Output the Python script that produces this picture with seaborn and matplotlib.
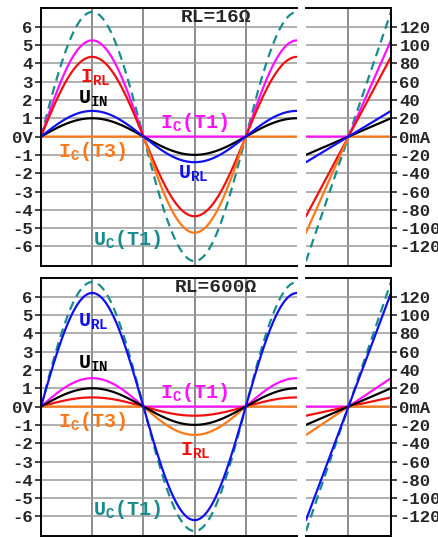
"""
Emitter-follower push-pull stage: waveforms and transfer curves
for two load resistors (16 ohm and 600 ohm).
"""

import numpy as np
import pandas as pd
import matplotlib
matplotlib.use("Agg")
import matplotlib.pyplot as plt
import seaborn as sns

# ---------------------------------------------------------------------------
# Data (peak values, in volts; right axis = 20 mA / V)
# ---------------------------------------------------------------------------
SERIES   = ["U_IN", "U_RL", "I_RL", "I_C(T1)", "I_C(T3)", "U_C(T1)"]
PEAK_16  = [1.0, 1.4, 4.35, 5.25, 5.25, 6.8]
PEAK_600 = [1.0, 6.2, 0.5, 1.55, 1.55, 6.8]
HALF     = ["full", "full", "full", "pos", "neg", "full"]

TITLES = ["RL=16Ω", "RL=600Ω"]

Y_TICKS   = [6, 5, 4, 3, 2, 1, 0, -1, -2, -3, -4, -5, -6]
Y_LABELS  = ["6", "5", "4", "3", "2", "1", "0V",
             "-1", "-2", "-3", "-4", "-5", "-6"]
MA_LABELS = ["120", "100", "80", "60", "40", "20", "0mA",
             "-20", "-40", "-60", "-80", "-100", "-120"]

# ---------------------------------------------------------------------------
# Styling / label placement
# ---------------------------------------------------------------------------
COLORS = {
    "U_IN":    "#000000",
    "U_RL":    "#1010f0",
    "I_RL":    "#f01010",
    "I_C(T1)": "#ff10ff",
    "I_C(T3)": "#ff7818",
    "U_C(T1)": "#188c8c",
}
TEXT = {
    "U_IN":    r"U$_{\mathrm{IN}}$",
    "U_RL":    r"U$_{\mathrm{RL}}$",
    "I_RL":    r"I$_{\mathrm{RL}}$",
    "I_C(T1)": r"I$_{\mathrm{C}}$(T1)",
    "I_C(T3)": r"I$_{\mathrm{C}}$(T3)",
    "U_C(T1)": r"U$_{\mathrm{C}}$(T1)",
}
DRAW_ORDER = ["U_C(T1)", "I_C(T1)", "I_RL", "I_C(T3)", "U_IN", "U_RL"]

# label anchor (phase, volts) at text baseline
LABEL_POS = [
    {"I_RL": (0.19, 2.95), "U_IN": (0.18, 1.82), "I_C(T1)": (0.58, 0.45),
     "I_C(T3)": (0.083, -1.13), "U_RL": (0.67, -2.3), "U_C(T1)": (0.254, -5.9)},
    {"U_RL": (0.18, 4.34), "U_IN": (0.18, 2.07), "I_C(T1)": (0.58, 0.45),
     "I_C(T3)": (0.083, -1.13), "I_RL": (0.68, -2.66), "U_C(T1)": (0.254, -5.9)},
]

FONT = "Liberation Mono"
YLIM = (-7.05, 7.0)


def shape(u, half):
    if half == "pos":
        return np.clip(u, 0, None)
    if half == "neg":
        return np.clip(u, None, 0)
    return u


def build_frames(peaks):
    t = np.linspace(0, 1.25, 500)
    u_in = np.sin(2 * np.pi * t)
    x = np.linspace(-1, 1, 201)
    wave, trans = [], []
    for name, pk, half in zip(SERIES, peaks, HALF):
        wave.append(pd.DataFrame({"t": t, "v": pk * shape(u_in, half), "s": name}))
        trans.append(pd.DataFrame({"x": x, "v": pk * shape(x, half), "s": name}))
    return pd.concat(wave, ignore_index=True), pd.concat(trans, ignore_index=True)


def style_axes(ax, side):
    ax.set_ylim(*YLIM)
    ax.set_yticks(Y_TICKS)
    ax.grid(axis="y", color="#9a9a9a", lw=1.1)
    ax.grid(axis="x", color="#6e6e6e", lw=1.1)
    ax.set_axisbelow(True)
    ax.set_xlabel(""); ax.set_ylabel("")
    ax.tick_params(axis="x", length=0, labelbottom=False)
    for sp in ax.spines.values():
        sp.set_color("black"); sp.set_linewidth(1.4)
    if side == "left":
        ax.spines["right"].set_visible(False)
        ax.set_yticklabels(Y_LABELS)
        ax.tick_params(axis="y", left=True, length=4, width=1.2, pad=2,
                       labelsize=12.5, direction="out")
    else:
        ax.spines["left"].set_visible(False)
        ax.yaxis.tick_right()
        ax.set_yticklabels(MA_LABELS)
        ax.tick_params(axis="y", right=True, left=False, length=4, width=1.2,
                       pad=2, labelsize=12.5, direction="out")
    for lab in ax.get_yticklabels():
        lab.set_fontweight("bold")


def draw_row(fig, bottom, peaks, title, label_pos):
    ax_w = fig.add_axes([41 / 439, bottom, 256 / 439, 0.4793])
    ax_t = fig.add_axes([306 / 439, bottom, 85 / 439, 0.4793])
    wave, trans = build_frames(peaks)

    for name in DRAW_ORDER:
        ls = (0, (4, 2.5)) if name == "U_C(T1)" else "-"
        sns.lineplot(data=wave[wave.s == name], x="t", y="v", ax=ax_w,
                     color=COLORS[name], lw=1.6, linestyle=ls, sort=False,
                     estimator=None)
        sns.lineplot(data=trans[trans.s == name], x="x", y="v", ax=ax_t,
                     color=COLORS[name], lw=1.6, linestyle=ls, sort=False,
                     estimator=None)

    ax_w.set_xlim(0, 1.25)
    ax_w.set_xticks([0.25, 0.5, 0.75, 1.0])
    ax_t.set_xlim(-1, 1)
    ax_t.set_xticks([0])
    style_axes(ax_w, "left")
    style_axes(ax_t, "right")

    for name, (px, py) in label_pos.items():
        ax_w.text(px, py, TEXT[name], color=COLORS[name], fontsize=14.5,
                  fontweight="bold", va="baseline", ha="left")
    ax_w.text(0.684, 0.966, title, transform=ax_w.transAxes, fontsize=14,
              fontweight="bold", ha="center", va="center")


def main():
    sns.set_style("white")
    plt.rcParams["font.family"] = [FONT, "DejaVu Sans"]
    plt.rcParams["font.weight"] = "bold"
    plt.rcParams["mathtext.fontset"] = "custom"
    plt.rcParams["mathtext.rm"] = f"{FONT}:bold"
    plt.rcParams["mathtext.it"] = f"{FONT}:bold"
    plt.rcParams["mathtext.bf"] = f"{FONT}:bold"

    fig = plt.figure(figsize=(4.39, 5.37), dpi=100)
    draw_row(fig, 0.5052, PEAK_16, TITLES[0], LABEL_POS[0])
    draw_row(fig, 0.0024, PEAK_600, TITLES[1], LABEL_POS[1])
    fig.savefig("out.png", dpi=100)
    plt.close(fig)


if __name__ == "__main__":
    main()
